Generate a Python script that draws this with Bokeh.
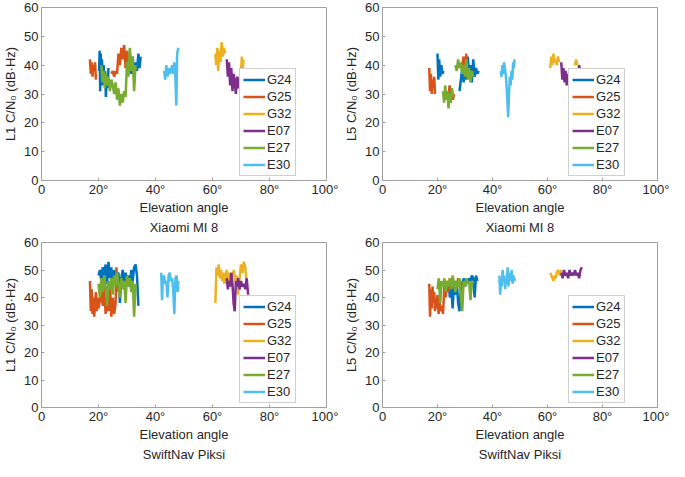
import math
from bokeh.plotting import figure
from bokeh.layouts import column, row
from bokeh.models import FixedTicker, Legend, LegendItem, Title
from bokeh.embed import file_html
from bokeh.resources import INLINE

nan = float("nan")

sat_names = ["G24", "G25", "G32", "E07", "E27", "E30"]
sat_colors = ["#0072BD", "#D95319", "#EDB120", "#7E2F8E", "#77AC30", "#4DBEEE"]

x_ticks = [0, 20, 40, 60, 80, 100]
x_tick_labels = ["0", "20°", "40°", "60°", "80°", "100°"]
y_ticks = [0, 10, 20, 30, 40, 50, 60]

# ---- Panel 1: L1, Xiaomi MI 8 ----
p1_G24_x = [20.2, 20.4, 20.6, 20.8, 21.0, 21.2, 21.5, 21.8, 22.0, 22.3, 22.6, 22.9, 23.2, 23.5, nan, 30.5, 31, 31.5, 32, 32.5, 33, 33.5, 34, 34.4, 34.8]
p1_G24_y = [38, 45, 31, 44, 36, 42, 33, 40, 35, 38, 29, 37, 32, 39, nan, 40, 44, 37, 43, 36, 41, 38, 44, 39, 43]
p1_G25_x = [17, 17.3, 17.6, 17.9, 18.2, 18.5, 18.8, 19.1, nan, 24.5, 25, 25.5, 26, 26.5, 27, 27.5, 28, 28.5, 29, 29.5, 30, 30.5]
p1_G25_y = [42, 37, 41, 36, 40, 38, 41, 35, nan, 37, 38, 36, 38, 37, 44, 40, 46, 42, 47, 39, 45, 41]
p1_G32_x = [61, 61.3, 61.7, 62, 62.4, 62.8, 63.2, 63.6, 64, 64.5, nan, 70, 70.3, 70.6, 70.9]
p1_G32_y = [44, 40, 46, 38, 45, 41, 48, 43, 46, 44, nan, 38, 43, 39, 42]
p1_E07_x = [65, 65.4, 65.8, 66.2, 66.6, 67, 67.4, 67.8, 68.2, 68.6, 69, 69.5, 70, 70.5, 71, 71.5, 72]
p1_E07_y = [42, 36, 41, 33, 39, 31, 37, 34, 30, 36, 32, 35, 38, 33, 37, 35, 32]
p1_E27_x = [21, 21.4, 21.8, 22.2, 22.6, 23, 23.5, 24, 24.5, 25, 25.5, 26, 26.5, 27, 27.5, 28, 28.5, 29, 29.5, 30, 30.5, 31, 31.5, 32, 32.5, 33]
p1_E27_y = [40, 34, 38, 32, 37, 33, 36, 31, 35, 33, 30, 34, 28, 32, 26, 30, 27, 31, 29, 41, 36, 46, 38, 43, 31, 40]
p1_E30_x = [43, 43.4, 43.8, 44.2, 44.6, 45, 45.4, 45.8, 46.2, 46.6, 47, 47.3, 47.6, 48]
p1_E30_y = [38, 35, 40, 36, 39, 37, 38, 40, 37, 41, 35, 26, 44, 46]

# ---- Panel 2: L5, Xiaomi MI 8 ----
p2_G24_x = [20, 20.3, 20.6, 21, 21.4, 21.8, 22.2, nan, 28, 28.5, 29, 29.5, 30, 30.5, 31, 31.5, 32, 32.5, 33, 33.5, 34, 34.5, 35]
p2_G24_y = [44, 35, 42, 36, 40, 37, 38, nan, 31, 35, 39, 34, 41, 35, 43, 37, 40, 34, 42, 36, 39, 37, 38]
p2_G25_x = [17, 17.3, 17.6, 17.9, 18.2, 18.5, 18.8, 19.1, nan, 24, 24.4, 24.8, 25.2, 25.6, 26, nan, 29, 29.5, 30, 30.5]
p2_G25_y = [39, 31, 37, 30, 35, 32, 36, 30, nan, 29, 33, 27, 32, 28, 30, nan, 40, 43, 38, 44]
p2_G32_x = [61, 61.4, 61.8, 62.2, 62.6, 63, 63.4, 63.8, 64.2, nan, 70, 70.4, 70.8]
p2_G32_y = [39, 43, 40, 44, 41, 42, 40, 43, 41, nan, 40, 42, 40]
p2_E07_x = [65, 65.4, 65.8, 66.2, 66.6, 67, 67.4, 67.8, 68.2, 68.6, 69, 69.5, 70, 70.5, 71, 71.5, 72]
p2_E07_y = [41, 35, 39, 34, 38, 33, 37, 35, 39, 34, 36, 38, 34, 39, 35, 40, 37]
p2_E27_x = [22, 22.4, 22.8, 23.2, 23.6, 24, 24.4, 24.8, 25.2, 25.6, nan, 26.5, 27, 27.5, 28, 28.5, 29, 29.5, 30, 30.5, 31, 31.5, 32, 32.5, 33]
p2_E27_y = [31, 27, 33, 28, 31, 25, 30, 27, 32, 29, nan, 40, 38, 42, 39, 41, 37, 40, 36, 42, 35, 39, 34, 38, 36]
p2_E30_x = [43, 43.3, 43.6, 43.9, 44.2, 44.5, 44.8, 45.1, 45.4, 45.7, 46, 46.3, 46.6, 46.9, 47.2, 47.5, 47.8, 48]
p2_E30_y = [38, 36, 40, 37, 41, 39, 37, 33, 28, 22, 30, 36, 33, 38, 35, 41, 39, 42]

# ---- Panel 3: L1, SwiftNav Piksi ----
p3_G24_x = [20, 20.5, 21, 21.5, 22, 22.5, 23, 23.5, 24, 24.5, 25, 25.5, 26, 27, 27.5, 28, 28.5, 29, 29.5, 30, 30.5, 31, 31.5, 32, 32.5, 33, 33.5, 34]
p3_G24_y = [48, 50, 46, 51, 48, 52, 45, 53, 47, 51, 44, 50, 48, 49, 38, 47, 50, 45, 49, 47, 48, 44, 50, 46, 51, 52, 48, 37]
p3_G25_x = [17, 17.3, 17.6, 17.9, 18.2, 18.5, 18.8, 19.1, 19.4, 19.7, 20, 20.5, 21, 21.5, 22, 22.5, 23, 23.5, 24, 24.5, 25, 25.5, 26, 26.3, 26.6]
p3_G25_y = [46, 35, 43, 34, 40, 33, 38, 42, 35, 40, 36, 39, 42, 37, 44, 34, 41, 35, 45, 33, 40, 34, 38, 51, 42]
p3_G32_x = [61, 61.4, 61.8, 62.2, 62.6, 63, 63.4, 63.8, 64.2, 64.6, 65, 65.5, 66, 66.5, 67, 67.5, 68, 68.5, 69, 69.5, 70, 70.5, 71, 71.5, 72]
p3_G32_y = [38, 51, 48, 52, 47, 50, 46, 49, 45, 48, 50, 46, 49, 47, 48, 50, 46, 48, 41, 47, 52, 49, 53, 51, 45]
p3_E07_x = [65, 65.4, 65.8, 66.2, 66.6, 67, 67.4, 67.8, 68.2, 68.6, 69, 69.5, 70, 70.5, 71, 71.5, 72, 72.5]
p3_E07_y = [47, 43, 46, 44, 49, 45, 38, 35, 46, 44, 47, 43, 46, 44, 45, 43, 47, 41]
p3_E27_x = [20, 20.5, 21, 21.5, 22, 22.5, 23, 23.5, 24, 24.5, 25, 25.5, 26, 26.5, 27, 27.5, 28, 28.5, 29, 29.5, 30, 30.5, 31, 31.5, 32, 32.5, 33]
p3_E27_y = [45, 40, 47, 42, 48, 44, 37, 46, 43, 47, 41, 48, 44, 49, 45, 40, 47, 43, 46, 38, 48, 44, 47, 42, 46, 33, 45]
p3_E30_x = [42, 42.3, 42.6, 43, 43.4, 43.8, 44.2, 44.6, 45, 45.4, 45.8, 46.2, 46.6, 47, 47.4, 47.8, 48]
p3_E30_y = [49, 39, 47, 48, 45, 46, 40, 48, 49, 46, 47, 43, 34, 47, 48, 42, 46]

# ---- Panel 4: L5, SwiftNav Piksi ----
p4_G24_x = [23, 23.5, 24, 24.5, 25, 25.5, 26, 26.5, 27, 27.5, 28, 28.5, 29, 29.5, 30, 30.5, 31, 31.5, 32, 32.5, 33, 33.5, 34, 34.5]
p4_G24_y = [44, 42, 46, 40, 44, 36, 45, 41, 46, 38, 35, 45, 43, 47, 44, 46, 45, 47, 46, 48, 47, 40, 48, 46]
p4_G25_x = [17, 17.3, 17.6, 17.9, 18.2, 18.5, 18.8, 19.1, 19.4, 19.7, 20, 20.4, 20.8, 21.2, 21.6, 22, 22.5, 23, 23.5, 24, 24.5, 25, 25.5, 26, 26.5, 27, 27.5, 28, 28.5, 29]
p4_G25_y = [45, 33, 43, 36, 44, 38, 42, 35, 40, 36, 41, 34, 38, 35, 37, 34, 44, 40, 46, 42, 47, 45, 47, 44, 46, 43, 47, 45, 46, 44]
p4_G32_x = [61, 61.4, 61.8, 62.2, 62.6, 63, 63.4, 63.8, 64.2, 64.6, 65]
p4_G32_y = [49, 48, 47, 46, 48, 47, 49, 50, 49, 48, 50]
p4_E07_x = [65, 65.5, 66, 66.5, 67, 67.5, 68, 68.5, 69, 69.5, 70, 70.5, 71, 71.5, 72, 72.5]
p4_E07_y = [49, 47, 50, 48, 49, 47, 50, 48, 49, 48, 50, 48, 49, 47, 50, 51]
p4_E27_x = [20, 20.5, 21, 21.5, 22, 22.5, 23, 23.5, 24, 24.5, 25, 25.5, 26, 26.5, 27, 27.5, 28, 28.5, 29, 29.5, 30, 30.5, 31, 31.5, 32, 32.5, 33]
p4_E27_y = [43, 47, 38, 46, 44, 47, 42, 46, 44, 47, 43, 48, 45, 42, 46, 44, 47, 40, 35, 46, 44, 47, 45, 46, 39, 46, 45]
p4_E30_x = [42.5, 42.8, 43.1, 43.4, 43.7, 44, 44.3, 44.6, 44.9, 45.2, 45.5, 45.8, 46.1, 46.4, 46.7, 47, 47.3, 47.6, 47.9, 48.2]
p4_E30_y = [48, 41, 47, 44, 50, 46, 48, 43, 47, 45, 51, 44, 49, 46, 48, 50, 45, 48, 46, 47]

panels = [
    dict(ylabel="L1 C/N₀ (dB·Hz)", device="Xiaomi MI 8",
         data=[(p1_G24_x, p1_G24_y), (p1_G25_x, p1_G25_y), (p1_G32_x, p1_G32_y),
               (p1_E07_x, p1_E07_y), (p1_E27_x, p1_E27_y), (p1_E30_x, p1_E30_y)]),
    dict(ylabel="L5 C/N₀ (dB·Hz)", device="Xiaomi MI 8",
         data=[(p2_G24_x, p2_G24_y), (p2_G25_x, p2_G25_y), (p2_G32_x, p2_G32_y),
               (p2_E07_x, p2_E07_y), (p2_E27_x, p2_E27_y), (p2_E30_x, p2_E30_y)]),
    dict(ylabel="L1 C/N₀ (dB·Hz)", device="SwiftNav Piksi",
         data=[(p3_G24_x, p3_G24_y), (p3_G25_x, p3_G25_y), (p3_G32_x, p3_G32_y),
               (p3_E07_x, p3_E07_y), (p3_E27_x, p3_E27_y), (p3_E30_x, p3_E30_y)]),
    dict(ylabel="L5 C/N₀ (dB·Hz)", device="SwiftNav Piksi",
         data=[(p4_G24_x, p4_G24_y), (p4_G25_x, p4_G25_y), (p4_G32_x, p4_G32_y),
               (p4_E07_x, p4_E07_y), (p4_E27_x, p4_E27_y), (p4_E30_x, p4_E30_y)]),
]

FONT = "Liberation Sans"
AX_COL = "#a0a0a0"

# panel geometry: (width, height, border_left, border_right, border_top, legend_x)
geom = [
    (338, 234, 40, 12, 7, 198),
    (331, 234, 44, 12, 7, 186),
    (338, 227, 40, 12, 8, 198),
    (331, 227, 44, 12, 8, 186),
]


def make_panel(cfg, g):
    w, h, bl, br, bt, lx = g
    p = figure(width=w, height=h, x_range=(0, 100), y_range=(0, 60),
               output_backend="svg", toolbar_location=None,
               min_border_left=bl, min_border_right=br,
               min_border_top=bt, min_border_bottom=0)
    p.grid.visible = False
    p.outline_line_color = AX_COL
    p.background_fill_color = "white"
    p.border_fill_color = "white"

    p.xaxis.ticker = FixedTicker(ticks=x_ticks)
    p.xaxis.major_label_overrides = {t: l for t, l in zip(x_ticks, x_tick_labels)}
    p.yaxis.ticker = FixedTicker(ticks=y_ticks)
    for ax in (p.xaxis, p.yaxis):
        ax.axis_line_color = AX_COL
        ax.major_tick_line_color = AX_COL
        ax.major_tick_in = 3
        ax.major_tick_out = 0
        ax.minor_tick_line_color = None
        ax.major_label_text_font = FONT
        ax.major_label_text_font_size = "13px"
        ax.major_label_text_color = "#262626"
        ax.axis_label_text_font = FONT
        ax.axis_label_text_font_size = "13px"
        ax.axis_label_text_font_style = "normal"
        ax.axis_label_text_color = "#262626"
        ax.major_label_standoff = 1
        ax.axis_label_standoff = 0
    p.yaxis.major_label_standoff = 3
    p.yaxis.axis_label_standoff = 3
    p.xaxis.axis_label = "Elevation angle"
    p.yaxis.axis_label = cfg["ylabel"]

    items = []
    for (xs, ys), name, col in zip(cfg["data"], sat_names, sat_colors):
        r = p.line(xs, ys, line_color=col, line_width=2.5)
        items.append(LegendItem(label=name, renderers=[r]))

    legend = Legend(items=items, location=(lx, 4),
                    label_text_font=FONT, label_text_font_size="13px",
                    label_text_color="#262626",
                    glyph_width=22, glyph_height=13, label_height=13,
                    spacing=2, padding=3, margin=0, label_standoff=2,
                    border_line_color=AX_COL, background_fill_alpha=1.0)
    p.add_layout(legend)

    t = Title(text=cfg["device"], align="center", text_font=FONT,
              text_font_size="13px", text_font_style="normal",
              text_color="#262626", standoff=0)
    p.add_layout(t, "below")
    return p


figs = [make_panel(cfg, g) for cfg, g in zip(panels, geom)]
layout = column(row(figs[0], figs[1]), row(figs[2], figs[3]))

open("out.html", "w").write(file_html(layout, INLINE))
